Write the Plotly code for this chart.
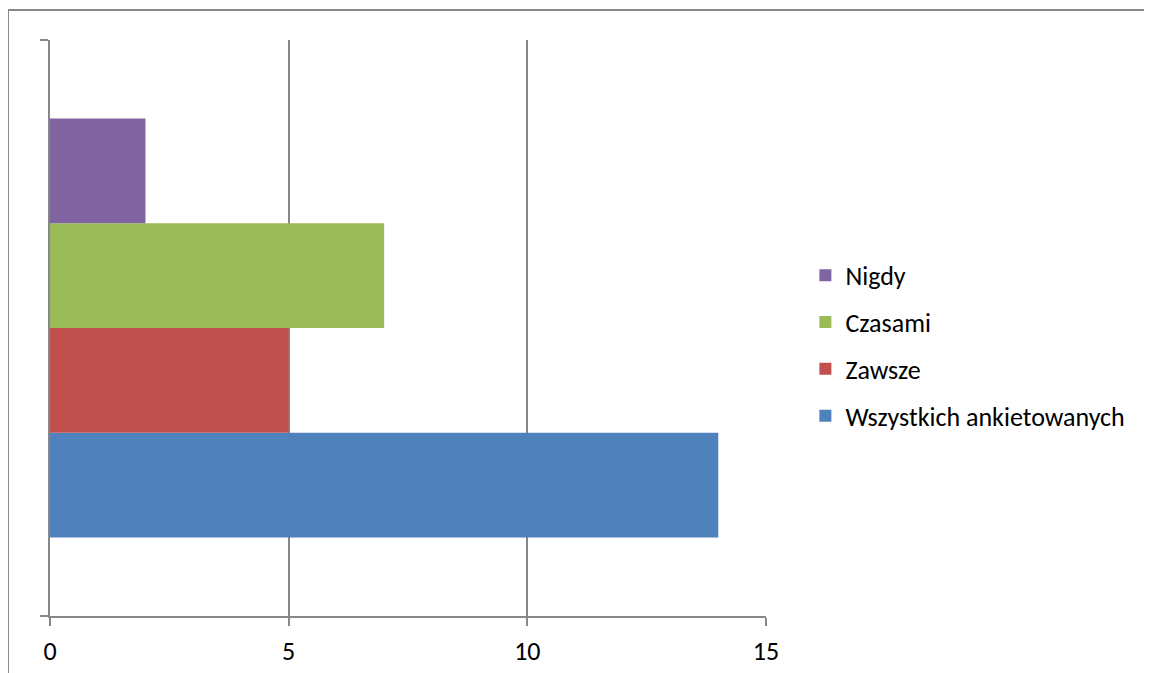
import plotly.graph_objects as go

# survey answers (single category, one bar per answer)
series = ["Wszystkich ankietowanych", "Zawsze", "Czasami", "Nigdy"]
values = [14, 5, 7, 2]
colors = ["#4F81BD", "#C0504D", "#9BBB59", "#8064A2"]
legend_rank = [4, 3, 2, 1]
category = [""]
x_ticks = [0, 5, 10, 15]

FONT = "Carlito, Lato, sans-serif"
GRAY = "#878787"

fig = go.Figure()
for name, val, col, rank in zip(series, values, colors, legend_rank):
    fig.add_trace(go.Bar(
        y=category, x=[val], name=name, orientation="h",
        marker=dict(color=col, line=dict(width=0)),
        legendgroup=name, legendrank=rank,
    ))

# page body has an 8px margin, so the figure is shrunk by that much
fig.update_layout(
    width=1144, height=665,
    margin=dict(l=42, r=386, t=32, b=57, autoexpand=False),
    paper_bgcolor="white", plot_bgcolor="white",
    barmode="group", bargap=0.273, bargroupgap=0,
    font=dict(family=FONT, size=26, color="black"),
    legend=dict(
        x=1.055, xanchor="left", y=0.469, yanchor="middle",
        traceorder="grouped", tracegroupgap=10,
        font=dict(family=FONT, size=26, color="black"),
        itemwidth=30,
    ),
    xaxis=dict(
        range=[0, 15], tickvals=x_ticks, showgrid=True,
        gridcolor=GRAY, gridwidth=1.5, zeroline=False,
        showline=True, linecolor=GRAY, linewidth=2,
        ticks="outside", ticklen=8, tickcolor=GRAY, tickwidth=2,
        ticklabelstandoff=3, automargin=False,
    ),
    yaxis=dict(
        type="category", showgrid=False, zeroline=False,
        showline=True, linecolor=GRAY, linewidth=2,
        ticks="outside", tickson="boundaries", ticklen=8,
        tickcolor=GRAY, tickwidth=2, showticklabels=False,
        automargin=False,
    ),
    shapes=[dict(
        type="rect", xref="paper", yref="paper",
        x0=-0.0587, x1=1.6, y0=-0.2, y1=1.052,
        line=dict(color=GRAY, width=2), layer="below",
    )],
)

fig.write_html("out.html")
